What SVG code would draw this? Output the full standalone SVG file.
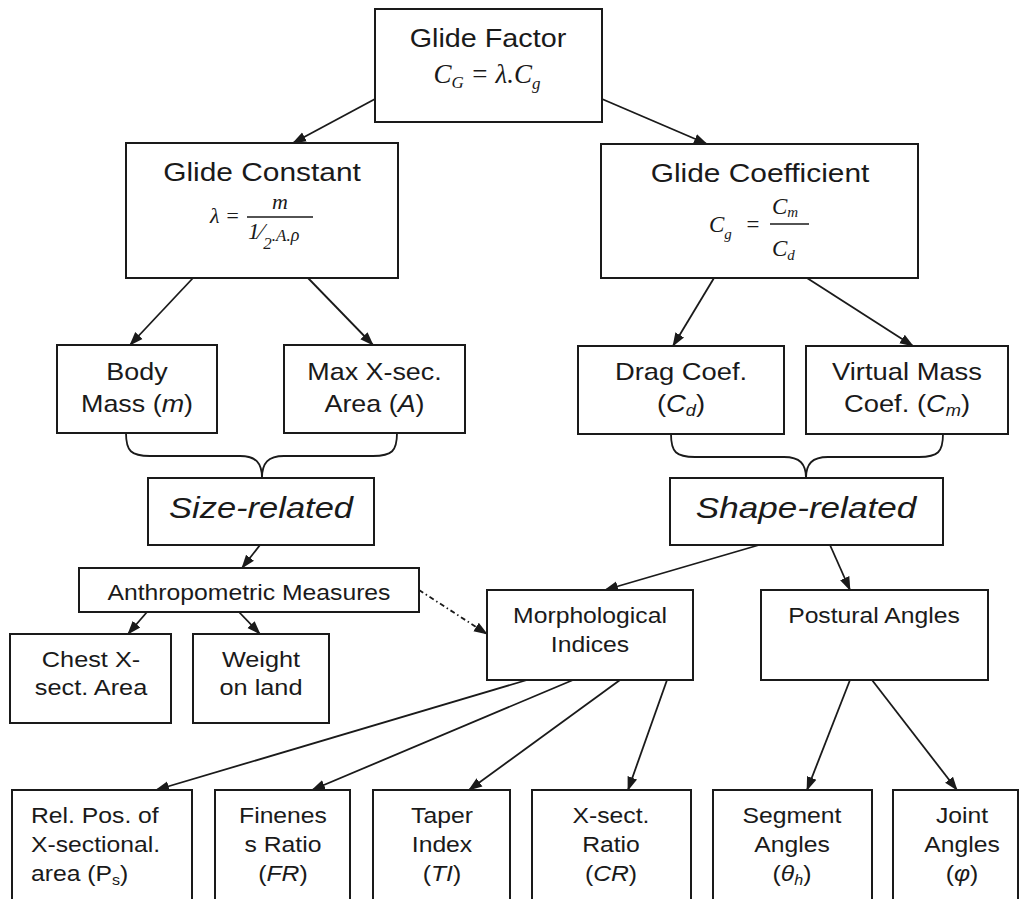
<svg xmlns="http://www.w3.org/2000/svg" width="1021" height="899" viewBox="0 0 1021 899">
  <defs>
    <marker id="arrow" markerUnits="userSpaceOnUse" markerWidth="14" markerHeight="12" viewBox="0 0 14 10" refX="13" refY="5" orient="auto">
      <path d="M0,0 L14,5 L0,10 z" fill="#1a1a1a"/>
    </marker>
    <style>
      rect.box { fill: #ffffff; stroke: #1a1a1a; stroke-width: 2; }
      .lbl { font-family: "Liberation Sans", Arial, sans-serif; fill: #1a1a1a; text-anchor: middle; }
      .math { font-family: "Liberation Serif", "Times New Roman", serif; font-style: italic; fill: #1a1a1a; }
      .it { font-style: italic; }
      #connectors line { stroke: #1a1a1a; stroke-width: 1.8; marker-end: url(#arrow); }
      #connectors path.brace { fill: none; stroke: #1a1a1a; stroke-width: 1.8; }
      #connectors line.dashdot { stroke-dasharray: 5 3 1.5 3; }
    </style>
  </defs>

  <rect x="0" y="0" width="1021" height="899" fill="#ffffff"/>

  <!-- connectors -->
  <g id="connectors">
    <line x1="375" y1="99" x2="293" y2="143"/>
    <line x1="602" y1="99" x2="707" y2="144"/>
    <line x1="193" y1="278" x2="130" y2="345"/>
    <line x1="308" y1="278" x2="373" y2="345"/>
    <line x1="714" y1="278" x2="673" y2="346"/>
    <line x1="807" y1="278" x2="913" y2="346"/>
    <path class="brace" d="M126,433 C126,451 131,456 150,456 L240,456 C256,456 262,463 262,478 C262,463 268,456 284,456 L373,456 C392,456 397,451 397,433"/>
    <path class="brace" d="M671,434 C671,452 676,457 695,457 L784,457 C800,457 806,464 806,478 C806,464 812,457 828,457 L919,457 C938,457 943,452 943,434"/>
    <line x1="260" y1="545" x2="242" y2="568"/>
    <line x1="147" y1="612" x2="128" y2="634"/>
    <line x1="239" y1="612" x2="260" y2="634"/>
    <line x1="759" y1="545" x2="605" y2="590"/>
    <line x1="830" y1="545" x2="850" y2="590"/>
    <line class="dashdot" x1="419" y1="590" x2="487" y2="634"/>
    <line x1="527" y1="680" x2="156" y2="790"/>
    <line x1="573" y1="680" x2="312" y2="790"/>
    <line x1="620" y1="680" x2="469" y2="790"/>
    <line x1="667" y1="680" x2="628" y2="790"/>
    <line x1="850" y1="680" x2="807" y2="790"/>
    <line x1="872" y1="680" x2="957" y2="790"/>
  </g>

  <!-- glide factor -->
  <g id="glide-factor">
    <rect class="box" x="375" y="9" width="227" height="113"/>
    <text class="lbl" font-size="25" transform="translate(488 47) scale(1.15 1)">Glide Factor</text>
    <text class="math" font-size="27" x="487" y="83" text-anchor="middle">C<tspan font-size="17" dy="5">G</tspan><tspan dy="-5"> = λ.C</tspan><tspan font-size="17" dy="6">g</tspan></text>
  </g>

  <!-- glide constant -->
  <g id="glide-constant">
    <rect class="box" x="126" y="143" width="272" height="135"/>
    <text class="lbl" font-size="26" transform="translate(262 181) scale(1.15 1)">Glide Constant</text>
    <text class="math" font-size="22" x="210" y="223">λ</text>
    <text class="math" font-size="22" x="225" y="223" font-style="normal">=</text>
    <text class="math" font-size="22" x="280" y="209" text-anchor="middle">m</text>
    <line x1="247" y1="217" x2="313" y2="217" stroke="#1a1a1a" stroke-width="1.3"/>
    <text class="math" font-size="23" x="248" y="239" font-style="normal">1⁄<tspan font-size="17" dy="10">2</tspan><tspan font-size="17" dy="-8">.A.</tspan><tspan font-style="italic" font-size="18">ρ</tspan></text>
  </g>

  <!-- glide coefficient -->
  <g id="glide-coefficient">
    <rect class="box" x="601" y="144" width="317" height="134"/>
    <text class="lbl" font-size="26" transform="translate(760 182) scale(1.15 1)">Glide Coefficient</text>
    <text class="math" font-size="23" x="709" y="232">C<tspan font-size="15" dy="7">g</tspan></text>
    <text class="math" font-size="23" x="745" y="232" font-style="normal">=</text>
    <line x1="770" y1="224" x2="809" y2="224" stroke="#1a1a1a" stroke-width="1.3"/>
    <text class="math" font-size="23" x="772" y="214">C<tspan font-size="15" dy="3">m</tspan></text>
    <text class="math" font-size="23" x="772" y="256">C<tspan font-size="15" dy="4">d</tspan></text>
  </g>

  <!-- body mass -->
  <g id="body-mass">
    <rect class="box" x="57" y="345" width="160" height="88"/>
    <text class="lbl" font-size="24" transform="translate(137 0) scale(1.12 1)"><tspan x="0" y="380">Body</tspan><tspan x="0" y="412">Mass (<tspan class="it">m</tspan>)</tspan></text>
  </g>

  <!-- max cross-section area -->
  <g id="max-xsec-area">
    <rect class="box" x="284" y="345" width="181" height="88"/>
    <text class="lbl" font-size="24" transform="translate(374.5 0) scale(1.12 1)"><tspan x="0" y="380">Max X-sec.</tspan><tspan x="0" y="412">Area (<tspan class="it">A</tspan>)</tspan></text>
  </g>

  <!-- drag coefficient -->
  <g id="drag-coef">
    <rect class="box" x="578" y="346" width="206" height="88"/>
    <text class="lbl" font-size="24" transform="translate(681 0) scale(1.14 1)"><tspan x="0" y="380">Drag Coef.</tspan><tspan x="0" y="412">(<tspan class="it">C</tspan><tspan class="it" font-size="16" dy="4">d</tspan><tspan dy="-4">)</tspan></tspan></text>
  </g>

  <!-- virtual mass coefficient -->
  <g id="virtual-mass-coef">
    <rect class="box" x="806" y="346" width="202" height="88"/>
    <text class="lbl" font-size="24" transform="translate(907 0) scale(1.14 1)"><tspan x="0" y="380">Virtual Mass</tspan><tspan x="0" y="412">Coef. (<tspan class="it">C</tspan><tspan class="it" font-size="16" dy="4">m</tspan><tspan dy="-4">)</tspan></tspan></text>
  </g>

  <!-- size-related -->
  <g id="size-related">
    <rect class="box" x="148" y="478" width="226" height="67"/>
    <text class="lbl it" font-size="30" transform="translate(261 518) scale(1.15 1)">Size-related</text>
  </g>

  <!-- shape-related -->
  <g id="shape-related">
    <rect class="box" x="670" y="478" width="273" height="67"/>
    <text class="lbl it" font-size="30" transform="translate(806 518) scale(1.17 1)">Shape-related</text>
  </g>

  <!-- anthropometric measures -->
  <g id="anthropometric">
    <rect class="box" x="79" y="568" width="340" height="44"/>
    <text class="lbl" font-size="21.5" transform="translate(249 600) scale(1.15 1)">Anthropometric Measures</text>
  </g>

  <!-- chest cross-section -->
  <g id="chest-xsect">
    <rect class="box" x="10" y="634" width="161" height="89"/>
    <text class="lbl" font-size="22" transform="translate(91 0) scale(1.15 1)"><tspan x="0" y="667">Chest X-</tspan><tspan x="0" y="695">sect. Area</tspan></text>
  </g>

  <!-- weight on land -->
  <g id="weight-on-land">
    <rect class="box" x="193" y="634" width="136" height="89"/>
    <text class="lbl" font-size="22" transform="translate(261 0) scale(1.15 1)"><tspan x="0" y="667">Weight</tspan><tspan x="0" y="695">on land</tspan></text>
  </g>

  <!-- morphological indices -->
  <g id="morphological">
    <rect class="box" x="487" y="590" width="206" height="90"/>
    <text class="lbl" font-size="21.5" transform="translate(590 0) scale(1.15 1)"><tspan x="0" y="623">Morphological</tspan><tspan x="0" y="652">Indices</tspan></text>
  </g>

  <!-- postural angles -->
  <g id="postural">
    <rect class="box" x="761" y="590" width="227" height="90"/>
    <text class="lbl" font-size="21.5" transform="translate(874 623) scale(1.15 1)">Postural Angles</text>
  </g>

  <!-- bottom row: indices and angles -->
  <g id="rel-pos">
    <rect class="box" x="12" y="790" width="180" height="120"/>
    <text class="lbl" font-size="21.5" style="text-anchor:start" transform="translate(31 0) scale(1.15 1)"><tspan x="0" y="823">Rel. Pos. of</tspan><tspan x="0" y="852">X-sectional.</tspan><tspan x="0" y="881">area (P<tspan font-size="14" dy="4">s</tspan><tspan dy="-4">)</tspan></tspan></text>
  </g>

  <g id="fineness-ratio">
    <rect class="box" x="215" y="790" width="135" height="120"/>
    <text class="lbl" font-size="21.5" transform="translate(283 0) scale(1.15 1)"><tspan x="0" y="823">Finenes</tspan><tspan x="0" y="852">s Ratio</tspan><tspan x="0" y="881">(<tspan class="it">FR</tspan>)</tspan></text>
  </g>

  <g id="taper-index">
    <rect class="box" x="373" y="790" width="137" height="120"/>
    <text class="lbl" font-size="21.5" transform="translate(442 0) scale(1.15 1)"><tspan x="0" y="823">Taper</tspan><tspan x="0" y="852">Index</tspan><tspan x="0" y="881">(<tspan class="it">TI</tspan>)</tspan></text>
  </g>

  <g id="xsect-ratio">
    <rect class="box" x="532" y="790" width="159" height="120"/>
    <text class="lbl" font-size="21.5" transform="translate(611 0) scale(1.15 1)"><tspan x="0" y="823">X-sect.</tspan><tspan x="0" y="852">Ratio</tspan><tspan x="0" y="881">(<tspan class="it">CR</tspan>)</tspan></text>
  </g>

  <g id="segment-angles">
    <rect class="box" x="713" y="790" width="159" height="120"/>
    <text class="lbl" font-size="21.5" transform="translate(792 0) scale(1.15 1)"><tspan x="0" y="823">Segment</tspan><tspan x="0" y="852">Angles</tspan><tspan x="0" y="881">(<tspan class="it">θ</tspan><tspan class="it" font-size="14" dy="4">h</tspan><tspan dy="-4">)</tspan></tspan></text>
  </g>

  <g id="joint-angles">
    <rect class="box" x="893" y="790" width="125" height="120"/>
    <text class="lbl" font-size="21.5" transform="translate(962 0) scale(1.15 1)"><tspan x="0" y="823">Joint</tspan><tspan x="0" y="852">Angles</tspan><tspan x="0" y="881">(<tspan class="it">φ</tspan>)</tspan></text>
  </g>
</svg>
